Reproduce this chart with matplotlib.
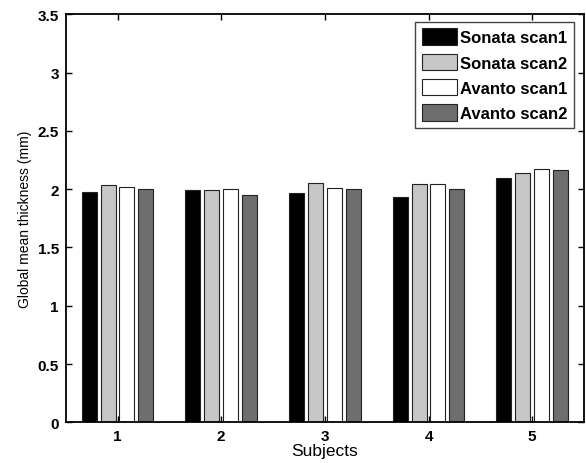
import matplotlib
matplotlib.use('Agg')
import matplotlib.pyplot as plt
import numpy as np

plt.rcParams['font.family'] = ['Liberation Sans', 'DejaVu Sans']

# valores
subjects = [1, 2, 3, 4, 5]
sonata_scan1 = [1.978, 1.990, 1.964, 1.930, 2.098]
sonata_scan2 = [2.035, 1.995, 2.055, 2.044, 2.135]
avanto_scan1 = [2.015, 2.003, 2.009, 2.044, 2.172]
avanto_scan2 = [2.003, 1.952, 1.998, 1.998, 2.164]
series_names = ['Sonata scan1', 'Sonata scan2', 'Avanto scan1', 'Avanto scan2']
yticks = [0, 0.5, 1, 1.5, 2, 2.5, 3, 3.5]
ytick_labels = ['0', '0.5', '1', '1.5', '2', '2.5', '3', '3.5']

series = [sonata_scan1, sonata_scan2, avanto_scan1, avanto_scan2]
colores = ['#000000', '#c6c6c6', '#ffffff', '#6e6e6e']

W, H = 586, 464
fig = plt.figure(figsize=(W/100, H/100), dpi=100)
ax = fig.add_axes([65.7/W, 1-423.3/H, (584-65.7)/W, (423.3-15.3)/H])

# ancho de grupo estilo MATLAB
nser = len(series)
gw = min(0.8, nser/(nser+1.5))
paso = gw/nser
ancho = paso*0.8
x = np.array(subjects)
for i, (vals, c, nom) in enumerate(zip(series, colores, series_names)):
    off = (i - (nser-1)/2)*paso
    ax.bar(x+off, vals, ancho, color=c, edgecolor='#222222', linewidth=0.8, label=nom)

ax.set_xlim(0.5, 5.5)
ax.set_ylim(0, 3.5)
ax.set_xticks(subjects)
ax.set_xticklabels([str(s) for s in subjects], fontweight='bold', fontsize=11)
ax.set_yticks(yticks)
ax.set_yticklabels(ytick_labels, fontweight='bold', fontsize=11)
ax.tick_params(direction='in', top=True, right=True, length=4, width=1, pad=5)
for sp in ax.spines.values():
    sp.set_linewidth(1.3)
ax.set_xlabel('Subjects', fontsize=12.5, labelpad=0)
ax.set_ylabel('Global mean thickness (mm)', fontsize=10, labelpad=4)

leg = ax.legend(loc='upper right', bbox_to_anchor=(574/W, 1-22.7/H),
                bbox_transform=fig.transFigure,
                prop={'weight': 'bold', 'size': 12},
                fancybox=False, edgecolor='#444444', framealpha=1,
                borderaxespad=0, handlelength=2.1, handleheight=1.15,
                labelspacing=0.5, handletextpad=0.2, borderpad=0.4)
leg.get_frame().set_linewidth(1.0)

fig.savefig('out.png', dpi=100)
